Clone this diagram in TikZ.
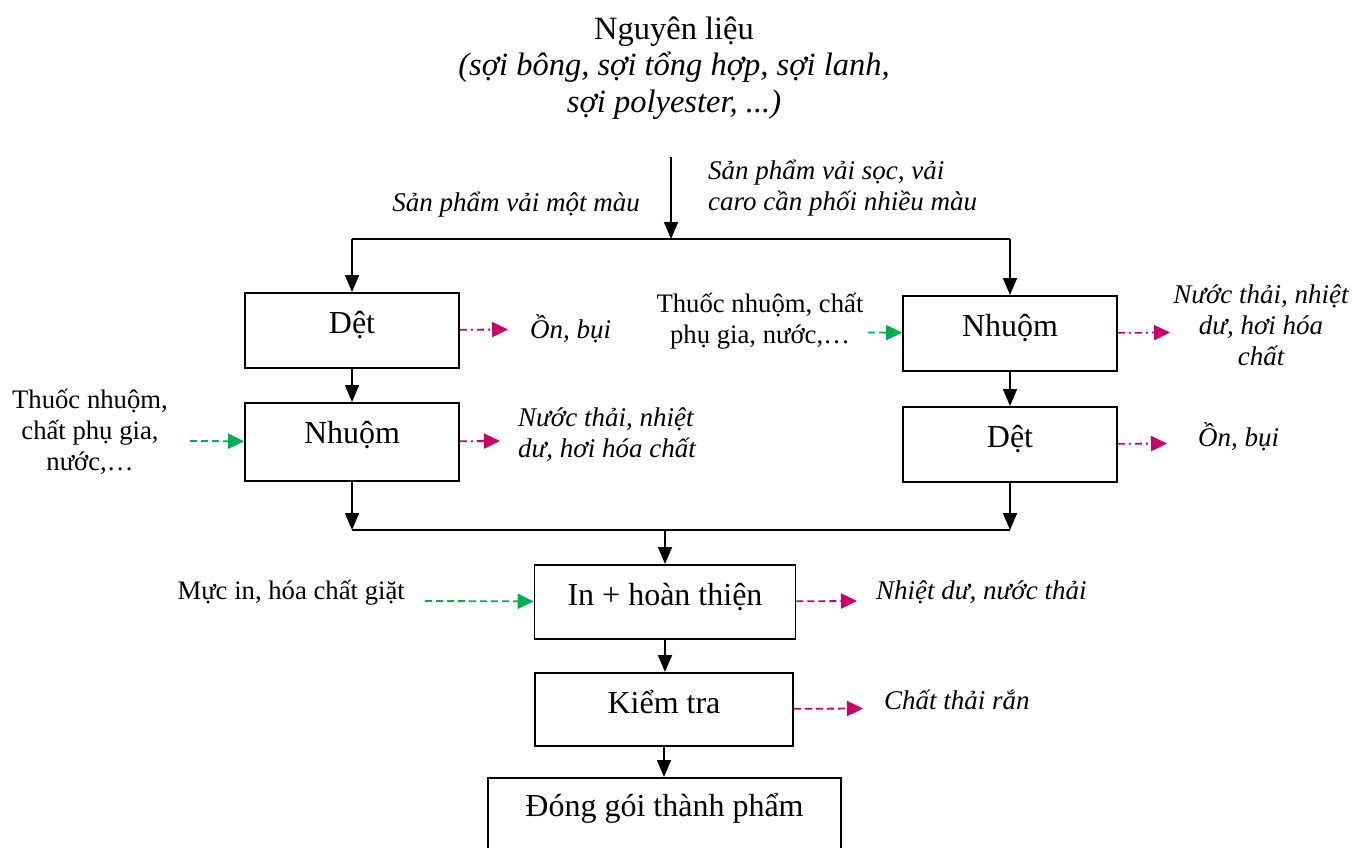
\documentclass[tikz,border=0pt]{standalone}
\usepackage{fontspec}
\setmainfont{Liberation Serif}
\usetikzlibrary{arrows.meta}
\definecolor{inflow}{RGB}{0,176,80}
\definecolor{outflow}{RGB}{204,0,102}

\begin{document}
\begin{tikzpicture}[x=1pt,y=-1pt,
  every node/.style={inner sep=0pt},
  big/.style={font=\fontsize{32}{36}\selectfont},
  title/.style={font=\fontsize{32.5}{36.5}\selectfont},
  small/.style={font=\fontsize{26.7}{31}\selectfont, align=center},
  smallit/.style={font=\fontsize{27}{31}\selectfont\itshape},
  stage/.style={draw, line width=1.7pt, big, anchor=north,
                text height=41pt, text depth=34pt},
  link/.style={line width=1.8pt},
  flow/.style={link, -{Triangle[length=17pt,width=14pt]}},
  feed/.style={draw=inflow, line width=1.8pt, dash pattern=on 7pt off 4pt,
               -{Triangle[length=16pt,width=15pt]}},
  emit/.style={draw=outflow, line width=1.8pt,
               dash pattern=on 7pt off 4pt on 2pt off 4pt,
               -{Triangle[length=16pt,width=15pt]}},
  emitdash/.style={draw=outflow, line width=1.8pt, dash pattern=on 7pt off 4pt,
               -{Triangle[length=16pt,width=15pt]}}]
\useasboundingbox (0,0) rectangle (1352,848);

% raw material
\node[title, align=center] (raw) at (674,68)
  {Nguyên liệu\\\textit{(sợi bông, sợi tổng hợp, sợi lanh,}\\\textit{sợi polyester, ...)}};

% branch labels
\node[smallit, anchor=east] (mono) at (640,205) {Sản phẩm vải một màu};
\node[smallit, align=left, anchor=west] (multi) at (708,188)
  {Sản phẩm vải sọc, vải\\caro cần phối nhiều màu};

% process stages
\node[stage, minimum width=214pt] (detL) at (352,292) {Dệt};
\node[stage, minimum width=214pt, text depth=37pt] (nhuomL) at (352,402) {Nhuộm};
\node[stage, minimum width=214pt] (nhuomR) at (1010,295) {Nhuộm};
\node[stage, minimum width=214pt] (detR) at (1010,406) {Dệt};
\node[stage, minimum width=261pt, text depth=33pt] (finish) at (665,564) {In + hoàn thiện};
\node[stage, minimum width=258pt, text depth=32pt] (check) at (664,672) {Kiểm tra};
\node[stage, minimum width=353pt, text height=39pt, text depth=60pt] (pack) at (664.5,777)
  {Đóng gói thành phẩm};

% main flow
\coordinate (src) at (671,157);
\coordinate (split) at (671,239);
\coordinate (splitL) at (352,239);
\coordinate (splitR) at (1010,239);
\draw[flow] (src) -- (split);
\draw[link] (splitL) -- (splitR);
\draw[flow] (splitL) -- (detL);
\draw[flow] (splitR) -- (nhuomR);
\draw[flow] (detL) -- (nhuomL);
\draw[flow] (nhuomR) -- (detR);

\coordinate (mergeL) at (352,530);
\coordinate (mergeR) at (1010,530);
\coordinate (merge) at (665,530);
\draw[flow] (nhuomL) -- (mergeL);
\draw[flow] (detR) -- (mergeR);
\draw[link] (mergeL) -- (mergeR);
\draw[flow] (merge) -- (finish);
\draw[flow] (finish.south) -- (finish.south |- check.north);
\draw[flow] (check.south) -- (check.south |- pack.north);

% inputs
\node[small] (dyeL) at (90,432) {Thuốc nhuộm,\\chất phụ gia,\\nước,…};
\node[small] (dyeR) at (760,321) {Thuốc nhuộm, chất\\phụ gia, nước,…};
\node[small, anchor=east] (ink) at (405,593) {Mực in, hóa chất giặt};
\coordinate (dyeLin) at (190,441);
\coordinate (dyeRin) at (868,332.5);
\coordinate (inkin) at (425,601);
\draw[feed] (dyeLin) -- (nhuomL);
\draw[feed] (dyeRin) -- (nhuomR);
\draw[feed] (inkin) -- (finish);

% emissions
\node[smallit, anchor=west] (noiseL) at (530,329) {Ồn, bụi};
\node[smallit, align=left, anchor=west] (wasteL) at (518,435)
  {Nước thải, nhiệt\\dư, hơi hóa chất};
\node[smallit, align=center] (wasteR) at (1261,325) {Nước thải, nhiệt\\dư, hơi hóa\\chất};
\node[smallit, anchor=west] (noiseR) at (1198,437) {Ồn, bụi};
\node[smallit, anchor=west] (heat) at (876,592) {Nhiệt dư, nước thải};
\node[smallit, anchor=west] (solid) at (884,700) {Chất thải rắn};

\coordinate (noiseLout) at (508,329.5);
\coordinate (wasteLout) at (500,441);
\coordinate (wasteRout) at (1170,332.5);
\coordinate (noiseRout) at (1167,443.5);
\coordinate (heatout) at (857,601);
\coordinate (solidout) at (863,708.5);
\draw[emit] (detL) -- (noiseLout);
\draw[emit] (nhuomL) -- (wasteLout);
\draw[emit] (nhuomR) -- (wasteRout);
\draw[emit] (detR) -- (noiseRout);
\draw[emitdash] (finish) -- (heatout);
\draw[emitdash] (check) -- (solidout);
\end{tikzpicture}
\end{document}
